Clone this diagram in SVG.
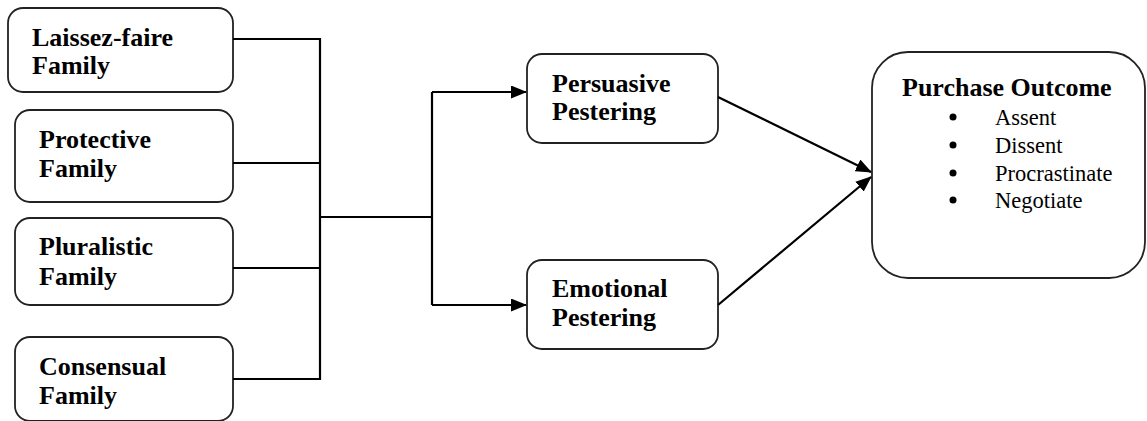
<svg xmlns="http://www.w3.org/2000/svg" width="1147" height="421" viewBox="0 0 1147 421">
<defs>
<style>
.box{fill:#fff;stroke:#222;stroke-width:1.8}
.t{font-family:"Liberation Serif","Times New Roman",serif;font-weight:bold;font-size:26px;fill:#000}
.r{font-family:"Liberation Serif","Times New Roman",serif;font-size:22.5px;fill:#000}
.ln{fill:none;stroke:#000;stroke-width:2.2}
</style>
<marker id="ah" markerWidth="16" markerHeight="13" refX="15" refY="6.5" orient="auto" markerUnits="userSpaceOnUse">
<path d="M0,0 L16,6.5 L0,13 Z" fill="#000"/>
</marker>
</defs>
<rect width="1147" height="421" fill="#fff"/>
<g id="laissez">
<rect class="box" x="8" y="8" width="225" height="84" rx="15"/>
<text class="t" x="32" y="46">Laissez-faire</text>
<text class="t" x="32" y="74">Family</text>
</g>
<g id="protective">
<rect class="box" x="15" y="110" width="218" height="92" rx="15"/>
<text class="t" x="39" y="148">Protective</text>
<text class="t" x="39" y="177">Family</text>
</g>
<g id="pluralistic">
<rect class="box" x="15" y="218" width="218" height="87" rx="15"/>
<text class="t" x="39" y="255">Pluralistic</text>
<text class="t" x="39" y="285">Family</text>
</g>
<g id="consensual">
<rect class="box" x="15" y="337" width="218" height="84" rx="15"/>
<text class="t" x="39" y="375">Consensual</text>
<text class="t" x="39" y="404">Family</text>
</g>
<g id="persuasive">
<rect class="box" x="527" y="54" width="191" height="89" rx="15"/>
<text class="t" x="552" y="92">Persuasive</text>
<text class="t" x="552" y="120">Pestering</text>
</g>
<g id="emotional">
<rect class="box" x="527" y="260" width="191" height="89" rx="15"/>
<text class="t" x="552" y="297">Emotional</text>
<text class="t" x="552" y="326">Pestering</text>
</g>
<g id="outcome">
<rect class="box" x="872" y="52" width="273" height="226" rx="36"/>
<text class="t" x="902" y="96">Purchase Outcome</text>
<circle cx="953" cy="117" r="3.5"/>
<text class="r" x="995" y="125">Assent</text>
<circle cx="953" cy="145" r="3.5"/>
<text class="r" x="995" y="153">Dissent</text>
<circle cx="953" cy="173" r="3.5"/>
<text class="r" x="995" y="181">Procrastinate</text>
<circle cx="953" cy="200" r="3.5"/>
<text class="r" x="995" y="208">Negotiate</text>
</g>
<g id="connectors">
<polyline class="ln" points="233,39 320,39 320,379 233,379"/>
<line class="ln" x1="233" y1="163" x2="320" y2="163"/>
<line class="ln" x1="233" y1="268" x2="320" y2="268"/>
<line class="ln" x1="320" y1="217" x2="432" y2="217"/>
<line class="ln" x1="432" y1="92" x2="432" y2="305"/>
<line class="ln" x1="432" y1="305" x2="526" y2="305" marker-end="url(#ah)"/>
<line class="ln" x1="432" y1="92" x2="526" y2="92" marker-end="url(#ah)"/>
<line class="ln" x1="718" y1="97" x2="871" y2="172" marker-end="url(#ah)"/>
<line class="ln" x1="718" y1="305" x2="871" y2="177" marker-end="url(#ah)"/>
</g>
</svg>
